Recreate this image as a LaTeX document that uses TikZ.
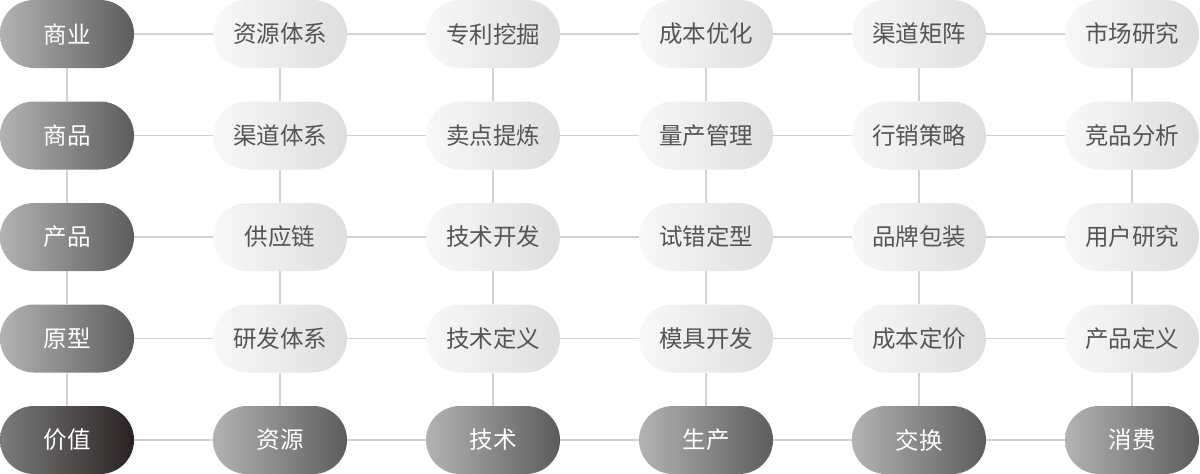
\documentclass[tikz,border=0pt]{standalone}
\usepackage{fontspec}
\newfontfamily\cjk{Noto Sans CJK SC}
\usetikzlibrary{backgrounds}
\definecolor{darkL}{HTML}{B3B3B3}
\definecolor{darkR}{HTML}{5C5C5C}
\definecolor{valL}{HTML}{7C7C7C}
\definecolor{valR}{HTML}{2A2222}
\definecolor{lightL}{HTML}{F8F8F8}
\definecolor{lightR}{HTML}{DEDEDE}
\definecolor{lightT}{HTML}{555555}
\definecolor{lineC}{HTML}{D2D2D2}
\tikzset{
  x=1pt,y=1pt,
  pill/.style={rectangle, rounded corners=33.9pt, minimum width=134pt, minimum height=68pt, inner sep=0pt, font=\cjk\fontsize{23.5pt}{27pt}\selectfont},
  darkpill/.style={pill, left color=darkL, right color=darkR, text=white},
  valpill/.style={pill, left color=valL, right color=valR, text=white},
  lightpill/.style={pill, left color=lightL, right color=lightR, text=lightT},
  link/.style={draw=lineC, line width=1.6pt}
}
\begin{document}
\begin{tikzpicture}
\useasboundingbox (0,0) rectangle (1200,-474);
\def\cA{67}\def\cB{280}\def\cC{493}\def\cD{706}\def\cE{919}\def\cF{1132}
\def\rA{-34}\def\rB{-135.5}\def\rC{-237}\def\rD{-338.5}\def\rE{-440}
% row 1
\node[darkpill] (a1) at (\cA,\rA) {商业};
\node[lightpill] (b1) at (\cB,\rA) {资源体系};
\node[lightpill] (c1) at (\cC,\rA) {专利挖掘};
\node[lightpill] (d1) at (\cD,\rA) {成本优化};
\node[lightpill] (e1) at (\cE,\rA) {渠道矩阵};
\node[lightpill] (f1) at (\cF,\rA) {市场研究};
% row 2
\node[darkpill] (a2) at (\cA,\rB) {商品};
\node[lightpill] (b2) at (\cB,\rB) {渠道体系};
\node[lightpill] (c2) at (\cC,\rB) {卖点提炼};
\node[lightpill] (d2) at (\cD,\rB) {量产管理};
\node[lightpill] (e2) at (\cE,\rB) {行销策略};
\node[lightpill] (f2) at (\cF,\rB) {竞品分析};
% row 3
\node[darkpill] (a3) at (\cA,\rC) {产品};
\node[lightpill] (b3) at (\cB,\rC) {供应链};
\node[lightpill] (c3) at (\cC,\rC) {技术开发};
\node[lightpill] (d3) at (\cD,\rC) {试错定型};
\node[lightpill] (e3) at (\cE,\rC) {品牌包装};
\node[lightpill] (f3) at (\cF,\rC) {用户研究};
% row 4
\node[darkpill] (a4) at (\cA,\rD) {原型};
\node[lightpill] (b4) at (\cB,\rD) {研发体系};
\node[lightpill] (c4) at (\cC,\rD) {技术定义};
\node[lightpill] (d4) at (\cD,\rD) {模具开发};
\node[lightpill] (e4) at (\cE,\rD) {成本定价};
\node[lightpill] (f4) at (\cF,\rD) {产品定义};
% row 5
\node[valpill] (a5) at (\cA,\rE) {价值};
\node[darkpill] (b5) at (\cB,\rE) {资源};
\node[darkpill] (c5) at (\cC,\rE) {技术};
\node[darkpill] (d5) at (\cD,\rE) {生产};
\node[darkpill] (e5) at (\cE,\rE) {交换};
\node[darkpill] (f5) at (\cF,\rE) {消费};
\begin{scope}[on background layer]
\foreach \r in {1,...,5}{
  \draw[link] (a\r) -- (b\r) -- (c\r) -- (d\r) -- (e\r) -- (f\r);
}
\foreach \c in {a,b,c,d,e,f}{
  \draw[link] (\c1) -- (\c2) -- (\c3) -- (\c4) -- (\c5);
}
\end{scope}
\end{tikzpicture}
\end{document}
